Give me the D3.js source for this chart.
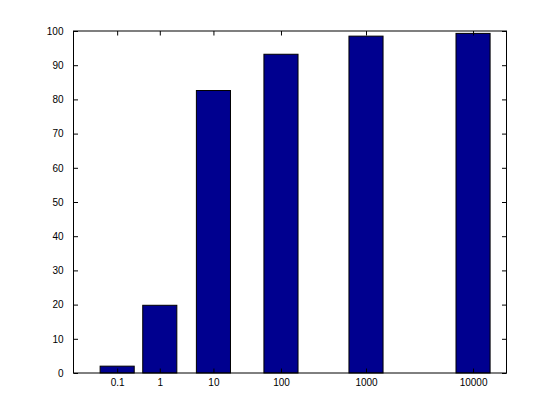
<!DOCTYPE html>
<html>
<head>
<meta charset="utf-8">
<script src="https://cdn.jsdelivr.net/npm/d3@7"></script>
<style>
  html, body { margin: 0; padding: 0; background: #ffffff; }
  svg text { font-family: "Liberation Sans", Arial, Helvetica, sans-serif; font-size: 10px; fill: #000; }
</style>
</head>
<body>
<svg id="chart" width="560" height="419"></svg>
<script>
// Data
const categories = [0.1, 1, 10, 100, 1000, 10000];
const categoryLabels = ["0.1", "1", "10", "100", "1000", "10000"];
const values = [2.0, 19.8, 82.6, 93.2, 98.5, 99.3];
const yTicks = [0, 10, 20, 30, 40, 50, 60, 70, 80, 90, 100];

(function () {
const svg = d3.select("#chart");
const mL = 73.5, mR = 506.5, mT = 31, mB = 373;

// x positions follow a power (exponent 0.1) spacing of the category values
const x = d3.scalePow().exponent(0.1)
  .domain([0.00458, 18645])
  .range([mL, mR]);
const y = d3.scaleLinear().domain([0, 100]).range([mB, mT]);

// bar width: 0.8 of the smallest spacing between neighbouring bars
let minGap = Infinity;
for (let i = 1; i < categories.length; i++) {
  minGap = Math.min(minGap, x(categories[i]) - x(categories[i - 1]));
}
const bw = 0.8 * minGap;

// Bars
svg.append("g").selectAll("rect")
  .data(categories)
  .join("rect")
  .attr("x", (d) => x(d) - bw / 2)
  .attr("y", (d, i) => y(values[i]))
  .attr("width", bw)
  .attr("height", (d, i) => y(0) - y(values[i]))
  .attr("fill", "#00008f")
  .attr("stroke", "#000")
  .attr("stroke-width", 1);

const tl = 4.5;
const axisStyle = (g) => {
  g.select(".domain").remove();
  g.selectAll("line").attr("stroke", "#000");
};

// Bottom axis (ticks inward)
svg.append("g")
  .attr("transform", `translate(0,${mB})`)
  .call(d3.axisBottom(x).tickValues(categories)
    .tickFormat((d, i) => categoryLabels[i])
    .tickSizeInner(-tl).tickSizeOuter(0).tickPadding(6))
  .call(axisStyle);

// Top axis (ticks only)
svg.append("g")
  .attr("transform", `translate(0,${mT})`)
  .call(d3.axisTop(x).tickValues(categories).tickFormat("")
    .tickSizeInner(-tl).tickSizeOuter(0))
  .call(axisStyle);

// Left axis
svg.append("g")
  .attr("transform", `translate(${mL},0)`)
  .call(d3.axisLeft(y).tickValues(yTicks).tickFormat(d3.format("d"))
    .tickSizeInner(-tl).tickSizeOuter(0).tickPadding(10))
  .call(axisStyle);

// Right axis (ticks only)
svg.append("g")
  .attr("transform", `translate(${mR},0)`)
  .call(d3.axisRight(y).tickValues(yTicks).tickFormat("")
    .tickSizeInner(-tl).tickSizeOuter(0))
  .call(axisStyle);

// Axes box
svg.append("rect")
  .attr("x", mL).attr("y", mT)
  .attr("width", mR - mL).attr("height", mB - mT)
  .attr("fill", "none").attr("stroke", "#000").attr("stroke-width", 1);

svg.selectAll("text")
  .attr("font-family", "'Liberation Sans', Arial, sans-serif")
  .attr("font-size", "10px");
})();
</script>
</body>
</html>
